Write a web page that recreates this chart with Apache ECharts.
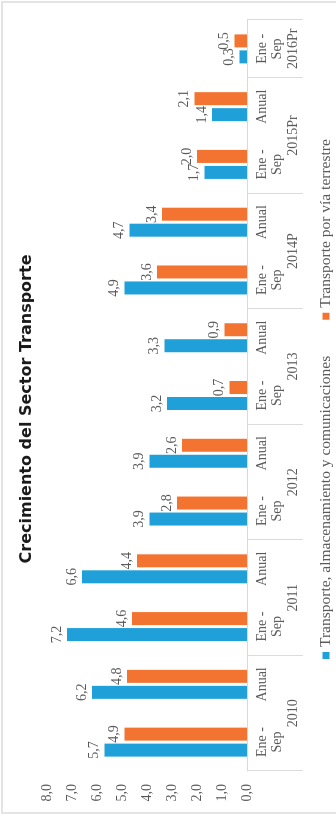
<!DOCTYPE html>
<html>
<head>
<meta charset="utf-8">
<script src="https://cdn.jsdelivr.net/npm/echarts@6/dist/echarts.min.js"></script>
<style>
  html, body { margin: 0; padding: 0; background: #fff; overflow: hidden; }
  body { width: 336px; height: 818px; position: relative; }
  #frame {
    position: absolute; left: 1px; top: 1px; width: 345px; height: 813px;
    border: 2px solid #e4e4e4; box-sizing: border-box;
  }
  /* The chart is laid out landscape and turned a quarter turn counter-clockwise */
  #chart {
    position: absolute; left: 0; top: 0; width: 818px; height: 336px;
    transform-origin: 0 0;
    transform: translate(0, 818px) rotate(-90deg);
  }
</style>
</head>
<body>
<div id="frame"></div>
<div id="chart"></div>
<script>
// Period labels (one per bar group)
const periodLabels = [
  'Ene -\nSep', 'Anual',
  'Ene -\nSep', 'Anual',
  'Ene -\nSep', 'Anual',
  'Ene -\nSep', 'Anual',
  'Ene -\nSep', 'Anual',
  'Ene -\nSep', 'Anual',
  'Ene -\nSep'
];
// Years and how many periods each one spans
const yearLabels = ['2010', '2011', '2012', '2013', '2014P', '2015Pr', '2016Pr'];
const yearSpans = [2, 2, 2, 2, 2, 2, 1];

// Growth rates (%)
const seriesNames = ['Transporte, almacenamiento y comunicaciones', 'Transporte por vía terrestre'];
const transporteAlmacenamiento = [5.7, 6.2, 7.2, 6.6, 3.9, 3.9, 3.2, 3.3, 4.9, 4.7, 1.7, 1.4, 0.3];
const transporteTerrestre = [4.9, 4.8, 4.6, 4.4, 2.8, 2.6, 0.7, 0.9, 3.6, 3.4, 2.0, 2.1, 0.5];

// Value axis range
const valueMin = 0, valueMax = 8, valueStep = 1;

const SERIF = "'Liberation Serif', 'Times New Roman', serif";
const TEXT = '#595959';
const fmt = v => Number(v).toFixed(1).replace('.', ',');

// Year axis on half-category points: a year label sits at the middle of its span
const yearStarts = [];
const halfPoints = new Array(periodLabels.length * 2 + 1).fill('');
let pos = 0;
yearLabels.forEach((y, i) => {
  yearStarts.push(pos);
  halfPoints[pos * 2 + yearSpans[i]] = y;
  pos += yearSpans[i];
});

const chart = echarts.init(document.getElementById('chart'), null, { renderer: 'canvas' });
chart.setOption({
  animation: false,
  backgroundColor: 'transparent',
  title: {
    text: 'Crecimiento del Sector Transporte',
    left: 'center',
    top: 14,
    textStyle: { fontFamily: "'DejaVu Sans', sans-serif", fontWeight: 'bold', fontSize: 16, color: '#1a1a1a' }
  },
  legend: {
    data: seriesNames,
    top: 313,
    left: 154,
    icon: 'rect',
    itemWidth: 7,
    itemHeight: 7,
    itemGap: 36,
    textStyle: { fontFamily: SERIF, fontSize: 15.5, color: TEXT }
  },
  grid: { left: 47, right: 20, top: 47, bottom: 89, containLabel: false },
  xAxis: [
    {
      type: 'category',
      data: periodLabels,
      axisLine: { lineStyle: { color: '#d9d9d9', width: 1 } },
      axisTick: {
        show: true,
        length: 56,
        interval: idx => yearStarts.includes(idx),
        lineStyle: { color: '#dcdcdc', width: 1 }
      },
      axisLabel: { interval: 0, margin: 8, fontFamily: SERIF, fontSize: 14, lineHeight: 15, color: TEXT }
    },
    {
      type: 'category',
      position: 'bottom',
      boundaryGap: false,
      data: halfPoints,
      axisLine: { show: false },
      axisTick: { show: false },
      axisLabel: { interval: 0, margin: 39, fontFamily: SERIF, fontSize: 14, color: TEXT }
    }
  ],
  yAxis: {
    type: 'value',
    min: valueMin,
    max: valueMax,
    interval: valueStep,
    axisLine: { show: false },
    axisTick: { show: false },
    splitLine: { show: false },
    axisLabel: { margin: 13, fontFamily: SERIF, fontSize: 14, color: TEXT, formatter: fmt }
  },
  series: [
    {
      name: seriesNames[0],
      type: 'bar',
      data: transporteAlmacenamiento,
      barWidth: 13,
      barGap: '23%',
      itemStyle: { color: '#20a0d9' },
      label: { show: true, position: 'top', distance: 3, formatter: p => fmt(p.value), fontFamily: SERIF, fontSize: 14, color: TEXT }
    },
    {
      name: seriesNames[1],
      type: 'bar',
      data: transporteTerrestre,
      barWidth: 13,
      itemStyle: { color: '#f37430' },
      label: { show: true, position: 'top', distance: 3, formatter: p => fmt(p.value), fontFamily: SERIF, fontSize: 14, color: TEXT }
    }
  ]
});
</script>
</body>
</html>
